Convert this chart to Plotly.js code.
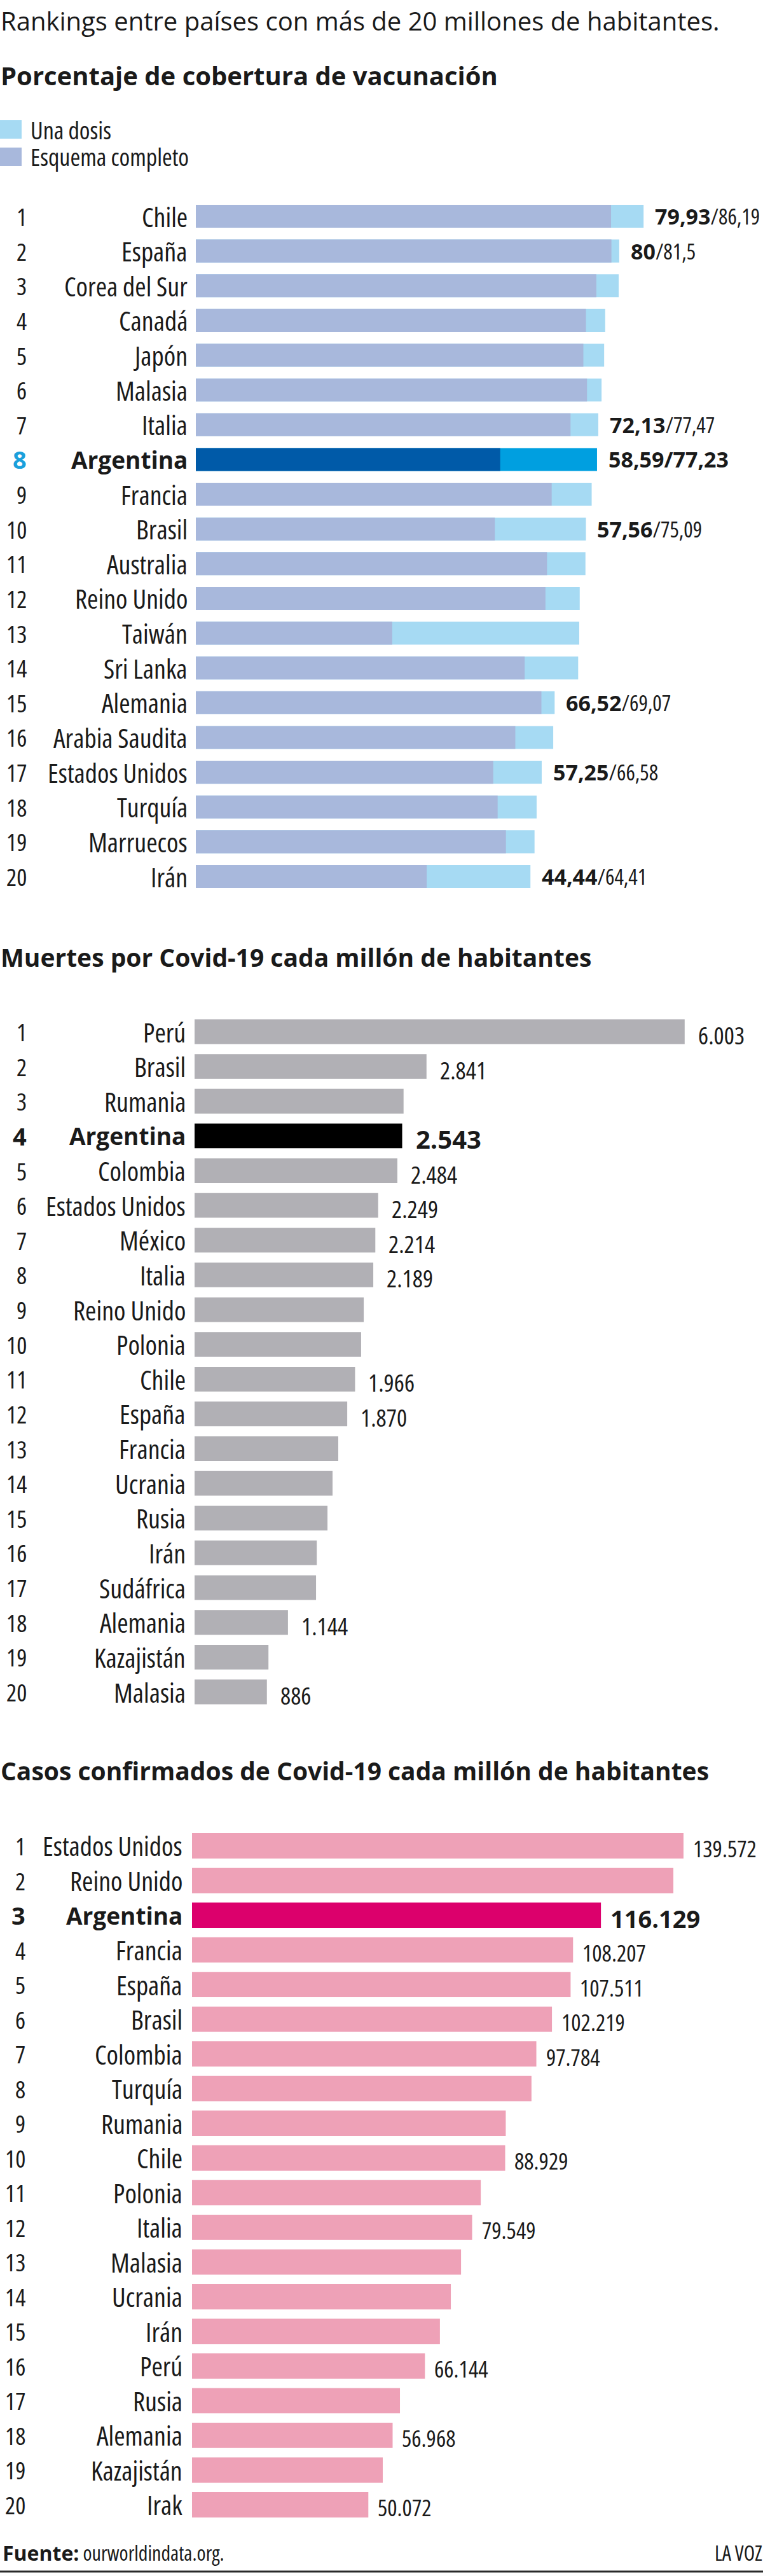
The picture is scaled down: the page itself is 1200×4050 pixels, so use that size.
<!DOCTYPE html>
<html>
<head>
<meta charset="utf-8">
<script src="https://cdn.plot.ly/plotly-3.0.1.min.js"></script>
<style>
  html, body { margin: 0; padding: 0; background: #ffffff; }
  #chart { width: 1200px; height: 4050px; }
  /* row labels and values use the narrow cut of the sans face; bold runs a little wider */
  text[style*="DejaVu"] { font-stretch: 87.5%; }
  tspan[style*="bold"] { font-stretch: 90%; }
</style>
</head>
<body>
<div id="chart"></div>
<script>
// ---------- Porcentaje de cobertura de vacunación ----------
const vacCountries = ['Chile', 'España', 'Corea del Sur', 'Canadá', 'Japón', 'Malasia', 'Italia', 'Argentina', 'Francia', 'Brasil',
  'Australia', 'Reino Unido', 'Taiwán', 'Sri Lanka', 'Alemania', 'Arabia Saudita', 'Estados Unidos', 'Turquía', 'Marruecos', 'Irán'];
const vacComplete = [79.93, 80, 77.1, 75.1, 74.6, 75.3, 72.13, 58.59, 68.5, 57.56,
  67.6, 67.3, 37.8, 63.3, 66.52, 61.5, 57.25, 58.1, 59.7, 44.44];
const vacOneDose = [86.19, 81.5, 81.4, 78.8, 78.6, 78.1, 77.47, 77.23, 76.2, 75.09,
  75.0, 73.9, 73.8, 73.6, 69.07, 68.8, 66.58, 65.6, 65.2, 64.41];
const vacLabeled = ['Chile', 'España', 'Italia', 'Argentina', 'Brasil', 'Alemania', 'Estados Unidos', 'Irán'];

// ---------- Muertes por Covid-19 cada millón de habitantes ----------
const deathCountries = ['Perú', 'Brasil', 'Rumania', 'Argentina', 'Colombia', 'Estados Unidos', 'México', 'Italia', 'Reino Unido', 'Polonia',
  'Chile', 'España', 'Francia', 'Ucrania', 'Rusia', 'Irán', 'Sudáfrica', 'Alemania', 'Kazajistán', 'Malasia'];
const deathValues = [6003, 2841, 2560, 2543, 2484, 2249, 2214, 2189, 2072, 2040,
  1966, 1870, 1760, 1690, 1628, 1497, 1488, 1144, 905, 886];
const deathLabeled = ['Perú', 'Brasil', 'Argentina', 'Colombia', 'Estados Unidos', 'México', 'Italia', 'Chile', 'España', 'Alemania', 'Malasia'];

// ---------- Casos confirmados de Covid-19 cada millón de habitantes ----------
const caseCountries = ['Estados Unidos', 'Reino Unido', 'Argentina', 'Francia', 'España', 'Brasil', 'Colombia', 'Turquía', 'Rumania', 'Chile',
  'Polonia', 'Italia', 'Malasia', 'Ucrania', 'Irán', 'Perú', 'Rusia', 'Alemania', 'Kazajistán', 'Irak'];
const caseValues = [139572, 136700, 116129, 108207, 107511, 102219, 97784, 96400, 89100, 88929,
  82000, 79549, 76400, 73500, 70400, 66144, 59050, 56968, 54170, 50072];
const caseLabeled = ['Estados Unidos', 'Argentina', 'Francia', 'España', 'Brasil', 'Colombia', 'Chile', 'Italia', 'Perú', 'Alemania', 'Irak'];

const highlight = 'Argentina';

// ---------- page geometry ----------
const W = 1200, H = 4050;
const FONT = "'Open Sans', 'DejaVu Sans', sans-serif";   // narrow labels
const FONT_WIDE = "'Open Sans', sans-serif";              // intro line
const INK = '#1a1a1a';
const px = x => x / W;
const py = y => 1 - y / H;

const COLORS = {
  oneDose: '#a6daf3', complete: '#a8b8dc',
  oneDoseHi: '#009fe0', completeHi: '#005aa8', rankHi: '#1aa0dc',
  deaths: '#b1b0b5', deathsHi: '#000000',
  cases: '#eea1b7', casesHi: '#dc006c'
};

// three stacked panels: bar origin (px), px per unit, first/last row centre (px)
const panels = [
  { ax: '', x0: 308, scale: 8.17, first: 340, last: 1378, rankRight: 43, labelRight: 296, bar: 0.66 },
  { ax: '2', x0: 306, scale: 0.1284, first: 1622, last: 2660, rankRight: 43, labelRight: 293, bar: 0.71 },
  { ax: '3', x0: 302, scale: 0.005538, first: 2902, last: 3938, rankRight: 41, labelRight: 288, bar: 0.73 }
];

const ranks = vacCountries.map((_, i) => i + 1);

function fmtDec(v) { return String(v).replace('.', ','); }
function fmtThousands(v) { return String(Math.round(v)).replace(/\B(?=(\d{3})+(?!\d))/g, '.'); }

const layout = {
  width: W, height: H,
  margin: { l: 0, r: 0, t: 0, b: 0 },
  paper_bgcolor: '#ffffff', plot_bgcolor: '#ffffff',
  barmode: 'overlay',
  showlegend: false,
  annotations: [],
  shapes: []
};

panels.forEach(p => {
  const pitch = (p.last - p.first) / 19;
  const top = p.first - pitch / 2, bottom = p.last + pitch / 2;
  layout['xaxis' + p.ax] = {
    domain: [px(p.x0), 1], range: [0, (W - p.x0) / p.scale],
    visible: false, fixedrange: true, anchor: 'y' + p.ax
  };
  layout['yaxis' + p.ax] = {
    domain: [py(bottom), py(top)], range: [20.5, 0.5],
    visible: false, fixedrange: true, anchor: 'x' + p.ax
  };
});

function note(text, x, y, size, opts) {
  layout.annotations.push(Object.assign({
    text: text, x: x, y: y, xref: 'paper', yref: 'paper',
    xanchor: 'left', yanchor: 'middle', showarrow: false, borderpad: 0,
    font: { family: FONT, size: size, color: INK }
  }, opts || {}));
}

// row labels: rank number and country name, written against each panel's y axis
function rowLabels(countries, panel) {
  countries.forEach((c, i) => {
    const hi = c === highlight;
    const yref = 'y' + panel.ax;
    layout.annotations.push({
      text: hi ? '<b>' + (i + 1) + '</b>' : String(i + 1),
      x: px(panel.rankRight), y: i + 1, xref: 'paper', yref: yref,
      xanchor: 'right', yanchor: 'middle', showarrow: false, borderpad: 0,
      font: { family: FONT, size: 38, color: hi && panel.ax === '' ? COLORS.rankHi : INK }
    });
    layout.annotations.push({
      text: hi ? '<b>' + c + '</b>' : c,
      x: px(panel.labelRight), y: i + 1, xref: 'paper', yref: yref,
      xanchor: 'right', yanchor: 'middle', showarrow: false, borderpad: 0,
      font: { family: FONT, size: hi ? 37 : 42, color: INK }
    });
  });
}

// ---------- vaccination panel ----------
const vacData = [
  {
    type: 'bar', orientation: 'h', x: vacOneDose, y: ranks, xaxis: 'x', yaxis: 'y',
    width: panels[0].bar, hoverinfo: 'skip',
    marker: { color: vacCountries.map(c => c === highlight ? COLORS.oneDoseHi : COLORS.oneDose), line: { width: 0 }, opacity: 1 }
  },
  {
    type: 'bar', orientation: 'h', x: vacComplete, y: ranks, xaxis: 'x', yaxis: 'y',
    width: panels[0].bar, hoverinfo: 'skip',
    marker: { color: vacCountries.map(c => c === highlight ? COLORS.completeHi : COLORS.complete), line: { width: 0 }, opacity: 1 }
  }
];
rowLabels(vacCountries, panels[0]);
vacCountries.forEach((c, i) => {
  if (!vacLabeled.includes(c)) return;
  const hi = c === highlight;
  const txt = hi
    ? '<b>' + fmtDec(vacComplete[i]) + '/' + fmtDec(vacOneDose[i]) + '</b>'
    : '<b>' + fmtDec(vacComplete[i]) + '</b>/' + fmtDec(vacOneDose[i]);
  layout.annotations.push({
    text: txt, x: vacOneDose[i], y: i + 1, xref: 'x', yref: 'y',
    xanchor: 'left', yanchor: 'middle', xshift: 17, showarrow: false, borderpad: 0,
    font: { family: FONT, size: 34, color: INK }
  });
});

// ---------- deaths panel ----------
const deathData = [{
  type: 'bar', orientation: 'h', x: deathValues, y: ranks, xaxis: 'x2', yaxis: 'y2',
  width: panels[1].bar, hoverinfo: 'skip',
  marker: { color: deathCountries.map(c => c === highlight ? COLORS.deathsHi : COLORS.deaths), line: { width: 0 }, opacity: 1 }
}];
rowLabels(deathCountries, panels[1]);
deathCountries.forEach((c, i) => {
  if (!deathLabeled.includes(c)) return;
  const hi = c === highlight;
  layout.annotations.push({
    text: hi ? '<b>' + fmtThousands(deathValues[i]) + '</b>' : fmtThousands(deathValues[i]),
    x: deathValues[i], y: i + 1, xref: 'x2', yref: 'y2',
    xanchor: 'left', yanchor: 'middle', xshift: 20, yshift: -5, showarrow: false, borderpad: 0,
    font: { family: FONT, size: hi ? 40 : 38, color: INK }
  });
});

// ---------- cases panel ----------
const caseData = [{
  type: 'bar', orientation: 'h', x: caseValues, y: ranks, xaxis: 'x3', yaxis: 'y3',
  width: panels[2].bar, hoverinfo: 'skip',
  marker: { color: caseCountries.map(c => c === highlight ? COLORS.casesHi : COLORS.cases), line: { width: 0 }, opacity: 1 }
}];
rowLabels(caseCountries, panels[2]);
caseCountries.forEach((c, i) => {
  if (!caseLabeled.includes(c)) return;
  const hi = c === highlight;
  layout.annotations.push({
    text: hi ? '<b>' + fmtThousands(caseValues[i]) + '</b>' : fmtThousands(caseValues[i]),
    x: caseValues[i], y: i + 1, xref: 'x3', yref: 'y3',
    xanchor: 'left', yanchor: 'middle', xshift: 14, yshift: -5, showarrow: false, borderpad: 0,
    font: { family: FONT, size: hi ? 38 : 36, color: INK }
  });
});

// ---------- headings, legend and footer ----------
note('Rankings entre países con más de 20 millones de habitantes.', 0, py(33), 40,
  { font: { family: FONT_WIDE, size: 40, color: INK } });
note('<b>Porcentaje de cobertura de vacunación</b>', 0, py(119), 40);
note('<b>Muertes por Covid-19 cada millón de habitantes</b>', 0, py(1504), 39);
note('<b>Casos confirmados de Covid-19 cada millón de habitantes</b>', 0, py(2783), 39);

const legendItems = [
  { name: 'Una dosis', color: COLORS.oneDose, y0: 189, y1: 218 },
  { name: 'Esquema completo', color: COLORS.complete, y0: 232, y1: 261 }
];
legendItems.forEach(it => {
  layout.shapes.push({
    type: 'rect', xref: 'paper', yref: 'paper',
    x0: 0, x1: px(34), y0: py(it.y1), y1: py(it.y0),
    fillcolor: it.color, line: { width: 0 }
  });
  note(it.name, px(47), py((it.y0 + it.y1) / 2), 38);
});

note('<b>Fuente:</b> ourworldindata.org.', px(3), py(4013), 32);
note('LA VOZ', 1, py(4013), 32, { xanchor: 'right' });
layout.shapes.push({
  type: 'line', xref: 'paper', yref: 'paper',
  x0: 0, x1: 1, y0: py(4043), y1: py(4043),
  line: { color: '#2a2a2a', width: 3 }
});

Plotly.newPlot('chart', vacData.concat(deathData, caseData), layout, { staticPlot: true, displayModeBar: false });
</script>
</body>
</html>
